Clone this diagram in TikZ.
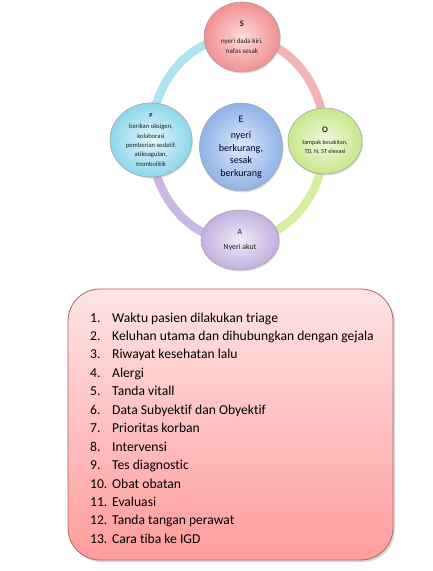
\documentclass[tikz,border=0pt]{standalone}
\usepackage{fontspec}
\setmainfont{Carlito}[Ligatures=NoCommon]
\usetikzlibrary{shadows,shapes.geometric}
\definecolor{ringC}{HTML}{AEE3F2}
\definecolor{ringS}{HTML}{F2B4B4}
\definecolor{ringO}{HTML}{D5EEA0}
\definecolor{ringA}{HTML}{C9B8E2}
\definecolor{sOut}{HTML}{F09090}\definecolor{sIn}{HTML}{FFDADA}
\definecolor{pOut}{HTML}{8FD6EC}\definecolor{pIn}{HTML}{E2F7FC}
\definecolor{eOut}{HTML}{8FB2E6}\definecolor{eIn}{HTML}{DCE8FA}
\definecolor{oOut}{HTML}{C6E78C}\definecolor{oIn}{HTML}{F2FADF}
\definecolor{aOut}{HTML}{C2B0E0}\definecolor{aIn}{HTML}{F0EAF8}
\definecolor{boxTop}{HTML}{FFE4E4}\definecolor{boxBot}{HTML}{FF9C9C}
\definecolor{boxLine}{HTML}{A86868}
\definecolor{txt}{HTML}{202020}
\begin{document}
\begin{tikzpicture}[x=1pt,y=-1pt,
  bub/.style={ellipse, draw=black!35, line width=0.6pt, align=center, text=txt,
    inner sep=0pt, drop shadow={shadow xshift=1pt, shadow yshift=-1.5pt, opacity=0.25}},
  ringseg/.style={line width=8.5pt, line cap=butt},
  item/.style={anchor=base west, inner sep=0pt, font=\fontsize{13.6}{15}\selectfont, text=black}
]
\useasboundingbox[fill=white] (0,0) rectangle (432,571);
% ring
\coordinate (rc) at (238,139);
\draw[ringseg, draw=ringS] ([shift={(-90:87 and 102)}]rc) arc[start angle=-90, end angle=0, x radius=87, y radius=102];
\draw[ringseg, draw=ringO] ([shift={(0:87 and 102)}]rc) arc[start angle=0, end angle=90, x radius=87, y radius=102];
\draw[ringseg, draw=ringA] ([shift={(90:87 and 102)}]rc) arc[start angle=90, end angle=180, x radius=87, y radius=102];
\draw[ringseg, draw=ringC] ([shift={(180:87 and 102)}]rc) arc[start angle=180, end angle=270, x radius=87, y radius=102];
% bubbles
\node[bub, minimum width=76, minimum height=70, inner color=sIn, outer color=sOut,
  font=\fontsize{7}{10}\selectfont] (S) at (242,37)
  {{\fontsize{8.5}{10}\selectfont\bfseries S}\\[7pt] nyeri dada kiri,\\ nafas sesak};
\node[bub, minimum width=82, minimum height=70, inner color=pIn, outer color=pOut,
  font=\fontsize{6.6}{9.3}\selectfont] (P) at (151,140)
  {{\fontsize{6}{8}\selectfont\bfseries P}\\[2pt] berikan oksigen,\\ kolaborasi\\ pemberian sedatif,\\ atikoagulan,\\ trombolitik};
\node[bub, minimum width=83, minimum height=84, inner color=eIn, outer color=eOut, text=black!80!blue,
  font=\fontsize{10}{12.5}\selectfont] (E) at (241,147)
  {E\\[4pt] nyeri\\ berkurang,\\ sesak\\ berkurang};
\node[bub, minimum width=74, minimum height=66, inner color=oIn, outer color=oOut,
  font=\fontsize{6.2}{9}\selectfont] (O) at (325,141)
  {{\fontsize{8.5}{10}\selectfont\bfseries O}\\[3pt] tampak kesakitan,\\ TD, N, ST elevasi};
\node[bub, minimum width=78, minimum height=60, inner color=aIn, outer color=aOut,
  font=\fontsize{7.8}{10}\selectfont] (A) at (240,240)
  {A\\[5pt] Nyeri akut};
% list box
\node[draw=boxLine, line width=0.8pt, rounded corners=32pt, minimum width=325, minimum height=271,
  top color=boxTop, bottom color=boxBot,
  drop shadow={shadow xshift=2pt, shadow yshift=-2pt, opacity=0.3}] (box) at (230.5,424.5) {};
\foreach \n/\t [count=\i from 0] in {
  1./Waktu pasien dilakukan triage,
  2./Keluhan utama dan dihubungkan dengan gejala,
  3./Riwayat kesehatan lalu,
  4./Alergi,
  5./Tanda vitall,
  6./Data Subyektif dan Obyektif,
  7./Prioritas korban,
  8./Intervensi,
  9./Tes diagnostic,
  10./Obat obatan,
  11./Evaluasi,
  12./Tanda tangan perawat,
  13./Cara tiba ke IGD}{
  \node[item] (item\i) at (90,{322+18.45*\i}) {\makebox[22pt][l]{\n}\t};
}
\end{tikzpicture}
\end{document}
